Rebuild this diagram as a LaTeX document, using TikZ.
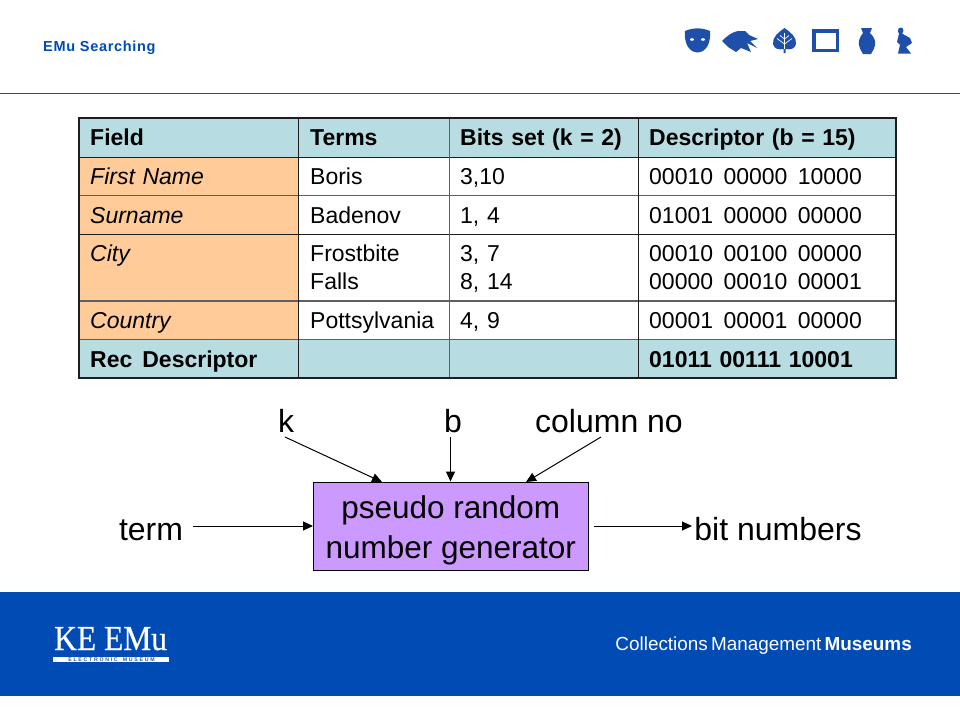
\documentclass[tikz,border=0pt]{standalone}
\usepackage{fontspec}
\usepackage{graphicx}
\setmainfont[WordSpace=1.2]{Liberation Sans}
\newfontfamily\logofont[FakeBold=0.6]{Liberation Serif}
\newfontfamily\plainfont{Liberation Sans}
\newfontfamily\titlefont[LetterSpace=4.8]{Liberation Sans Bold}
\usetikzlibrary{arrows.meta}
\definecolor{hdr}{RGB}{183,221,226}
\definecolor{peach}{RGB}{255,204,153}
\definecolor{brandblue}{RGB}{0,76,180}
\definecolor{iconblue}{RGB}{30,80,170}
\definecolor{purp}{RGB}{204,153,255}
\definecolor{rulecol}{RGB}{15,90,135}
\definecolor{grid}{RGB}{30,30,30}
\definecolor{gridsoft}{RGB}{95,95,95}
\newcommand{\dgap}{\hspace{10.4pt}}
\newcommand{\dgab}{\hspace{7.8pt}}
\tikzset{
 x=1pt,y=-1pt,
 cellt/.style={anchor=base west,inner sep=0pt,font=\fontsize{23}{26}\selectfont,text=black},
 bigt/.style={inner sep=0pt,font=\plainfont\fontsize{32}{40}\selectfont,text=black},
 arr/.style={draw=black,line width=1pt,-{Triangle[length=10pt,width=9pt]}},
 icon/.style={fill=iconblue,draw=none},
 gridl/.style={draw=grid,line width=1pt},
 grids/.style={draw=gridsoft,line width=1.6pt},
 outer/.style={draw=grid,line width=2pt}
}
\begin{document}
\begin{tikzpicture}
\useasboundingbox (0,0) rectangle (960,720);
\fill[white] (0,0) rectangle (960,720);
% header
\node[anchor=base west,inner sep=0pt,text=brandblue,font=\titlefont\fontsize{14.5}{16}\selectfont] (title) at (43,51) {EMu Searching};
\draw[rulecol,line width=1.2pt] (0,93.5) -- (960,93.5);
% icons
\fill[icon] (685,31) .. controls (693,27.5) and (702,27.5) .. (710,31) .. controls (711,42) and (707,52) .. (697.5,52.5) .. controls (688,52) and (684,42) .. (685,31) -- cycle;
\fill[white] (692,39.5) ellipse (2 and 1.3) (703,39.5) ellipse (2 and 1.3);
\fill[icon] (722,41) .. controls (727,36) and (732,32) .. (738,31) -- (745,31) -- (749,35) -- (758,39) -- (750,41) -- (757,48) -- (747,43) -- (751,52) -- (741,48) -- (736,52) -- (728,47) -- cycle;
\fill[icon] (784.5,28) .. controls (790,32) and (797,37) .. (796,44) .. controls (795,49) and (790,50) .. (785.5,49) -- (785.5,53) -- (783.5,53) -- (783.5,49) .. controls (779,50) and (774,49) .. (773,44) .. controls (772,37) and (779,32) .. (784.5,28) -- cycle;
\draw[white,line width=.7pt] (784.5,33) -- (784.5,49) (784.5,39) -- (780,35.5) (784.5,39) -- (789,35.5) (784.5,44) -- (777,38.5) (784.5,44) -- (792,38.5);
\draw[iconblue,line width=3.2pt] (814,31) rectangle (837.5,50.5);
\fill[icon] (861,28) -- (872,28) -- (870,33) .. controls (874,37) and (876,41) .. (875,45) .. controls (874,49) and (873,51) .. (871,54) -- (863,54) .. controls (861,51) and (860,49) .. (859,45) .. controls (858,41) and (860,37) .. (863,33) -- cycle;
\fill[icon] (900.7,27.5) .. controls (904,27.5) and (904,32) .. (902,33.5) -- (910,38) -- (912,43) -- (906,47) -- (911,53.5) -- (898,53.5) -- (900,45) -- (897,42) -- (899,33.5) .. controls (897.5,32) and (897.5,27.5) .. (900.7,27.5) -- cycle;
% table fills
\fill[hdr] (79,118) rectangle (896,157);
\fill[peach] (79,157) rectangle (298,340);
\fill[hdr] (79,340) rectangle (896,378);
% table grid
\foreach \yy in {157,234} \draw[gridl] (79,\yy) -- (896,\yy);
\foreach \yy in {195.5,301,339.5} \draw[grids] (79,\yy) -- (896,\yy);
\foreach \xx in {298,638} \draw[gridl] (\xx,118) -- (\xx,378);
\draw[grids] (449.5,118) -- (449.5,378);
\draw[outer] (79,118) rectangle (896,378);
% table text
\node[cellt] (h1) at (90,145.5) {\bfseries Field};
\node[cellt] (h2) at (310,145.5) {\bfseries Terms};
\node[cellt] (h3) at (460,145.5) {\bfseries Bits set (k = 2)};
\node[cellt] (h4) at (649,145.5) {\bfseries Descriptor (b = 15)};
\node[cellt] (a1) at (90,184) {\itshape First Name};
\node[cellt] (a2) at (310,184) {Boris};
\node[cellt] (a3) at (460,184) {3,10};
\node[cellt] (a4) at (649,184) {00010\dgap 00000\dgap 10000};
\node[cellt] (b1) at (90,223) {\itshape Surname};
\node[cellt] (b2) at (310,223) {Badenov};
\node[cellt] (b3) at (460,223) {1, 4};
\node[cellt] (b4) at (649,223) {01001\dgap 00000\dgap 00000};
\node[cellt] (c1) at (90,261) {\itshape City};
\node[cellt] (c2) at (310,261) {Frostbite};
\node[cellt] (c2b) at (310,289) {Falls};
\node[cellt] (c3) at (460,261) {3, 7};
\node[cellt] (c3b) at (460,289) {8, 14};
\node[cellt] (c4) at (649,261) {00010\dgap 00100\dgap 00000};
\node[cellt] (c4b) at (649,289) {00000\dgap 00010\dgap 00001};
\node[cellt] (d1) at (90,328) {\itshape Country};
\node[cellt] (d2) at (310,328) {Pottsylvania};
\node[cellt] (d3) at (460,328) {4, 9};
\node[cellt] (d4) at (649,328) {00001\dgap 00001\dgap 00000};
\node[cellt] (e1) at (90,367) {\bfseries Rec\hspace{10pt}Descriptor};
\node[cellt] (e4) at (649,367) {\bfseries 01011\dgab 00111\dgab 10001};
% diagram
\node[draw=black,line width=1pt,fill=purp,minimum width=275pt,minimum height=87.7pt,inner sep=0pt,align=center,font=\plainfont\fontsize{31.5}{40}\selectfont] (gen) at (450.8,526.2) {\rule{0pt}{32pt}pseudo random\\number generator};
\node[bigt,anchor=base] (k) at (286,432) {k};
\node[bigt,anchor=base] (b) at (453,432) {b};
\node[bigt,anchor=base] (col) at (609,432) {column no};
\node[bigt,anchor=base] (term) at (151,540) {term};
\node[bigt,anchor=base] (bits) at (778,540) {bit numbers};
\coordinate (kS) at (285,437);
\coordinate (kE) at (382,482);
\coordinate (bS) at (450.5,437);
\coordinate (bE) at (450.5,481.5);
\coordinate (cS) at (601,437);
\coordinate (cE) at (526,482);
\coordinate (tS) at (193,526);
\coordinate (tE) at (313,526);
\coordinate (oS) at (594,526);
\coordinate (oE) at (692,526);
\draw[arr] (kS) -- (kE);
\draw[arr] (bS) -- (bE);
\draw[arr] (cS) -- (cE);
\draw[arr] (tS) -- (tE);
\draw[arr] (oS) -- (oE);
% footer
\fill[brandblue] (0,592) rectangle (960,696);
\node[anchor=base west,inner sep=0pt,text=white,font=\logofont\fontsize{35}{36}\selectfont] (logo) at (54,650) {\scalebox{.9}[1]{KE EMu}};
\fill[white] (53.3,656.7) rectangle (169,662.3);
\node[inner sep=0pt,text=brandblue!70!gray,font=\bfseries\fontsize{5.2}{6}\selectfont] (logosub) at (111.5,659.6) {E L E C T R O N I C\ \ \ M U S E U M};
\node[anchor=base east,inner sep=0pt,text=white,font=\fontsize{18.9}{20}\selectfont] (foot) at (912,650) {Collections\hspace{3.2pt}Management\hspace{3.2pt}\textbf{Museums}};
\end{tikzpicture}
\end{document}
